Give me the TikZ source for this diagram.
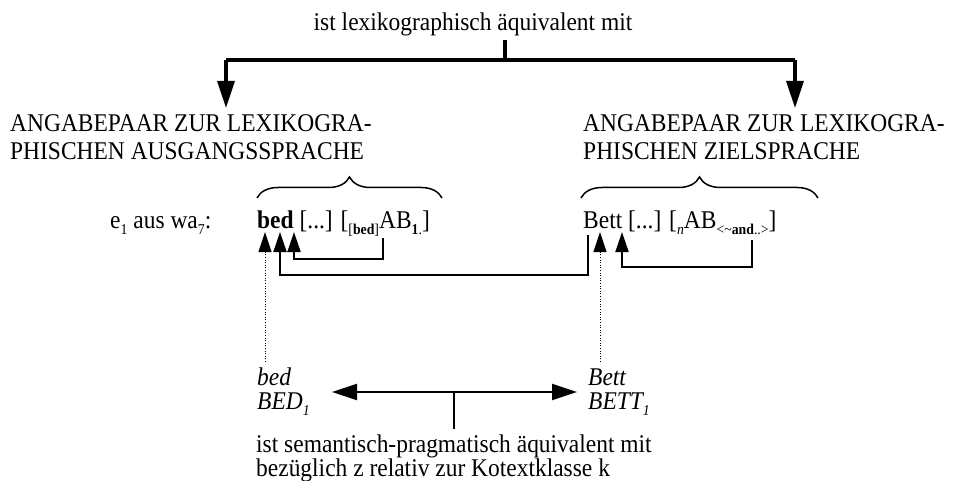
\documentclass[tikz,border=0pt]{standalone}
\usepackage{fontspec}
\setmainfont{Liberation Serif}[FakeStretch=0.92]
\usetikzlibrary{arrows.meta,decorations.pathreplacing}
\newcommand\mysb[1]{\raisebox{-0.25em}{\fontsize{15}{15}\selectfont #1}}
\tikzset{
  txt/.style={inner sep=0pt, anchor=base west, font=\fontsize{25.5}{28}\selectfont},
  bigarrow/.style={line width=3.2pt, -{Triangle[length=27pt,width=17pt]}},
  bigline/.style={line width=3.2pt},
  smallarrow/.style={line width=2pt, -{Triangle[length=20pt,width=13pt]}},
  smallline/.style={line width=2pt},
  dotline/.style={line width=1pt, dash pattern=on 1pt off 1.6pt, -{Triangle[length=20pt,width=13pt]}},
  dblarrow/.style={line width=2pt, {Triangle[length=25pt,width=16pt]}-{Triangle[length=25pt,width=16pt]}},
  bracestyle/.style={line width=1.5pt, decorate, decoration={brace, amplitude=21pt}},
}
\begin{document}
\begin{tikzpicture}[x=1pt,y=-1pt]
\fill[white] (0,0) rectangle (955,481);
\useasboundingbox (0,0) rectangle (955,481);

% top relation
\node[txt, anchor=base] (lex) at (473,31) {ist lexikographisch äquivalent mit};
\coordinate (lexstub) at (505,40);
\coordinate (lexbar) at (505,60);
\coordinate (barL) at (226,60);
\coordinate (barR) at (795,60);
\coordinate (tipL) at (226,108);
\coordinate (tipR) at (795,108);
\draw[bigline] (lexstub) -- (lexbar);
\draw[bigline] (barL) -- (barR);
\draw[bigarrow] (barL) -- (tipL);
\draw[bigarrow] (barR) -- (tipR);

% headings
\node[txt] (srcA) at (10,132) {ANGABEPAAR ZUR LEXIKOGRA-};
\node[txt] (srcB) at (10,160) {PHISCHEN AUSGANGSSPRACHE};
\node[txt] (tgtA) at (583,132) {ANGABEPAAR ZUR LEXIKOGRA-};
\node[txt] (tgtB) at (583,160) {PHISCHEN ZIELSPRACHE};

% braces
\coordinate (brLa) at (257,198);
\coordinate (brLb) at (442,198);
\coordinate (brRa) at (581,198);
\coordinate (brRb) at (818,198);
\draw[bracestyle] (brLa) -- (brLb);
\draw[bracestyle] (brRa) -- (brRb);

% entry row
\node[txt] (ex) at (110,228) {e\mysb{1} aus wa\mysb{7}:};
\node[txt] (bed) at (257,228) {\textbf{bed} [...] [\mysb{[\textbf{bed}]}AB\mysb{\textbf{1}.}]};
\node[txt] (bett) at (583,228) {Bett [...] [\mysb{\textit{n}}AB\mysb{<\textasciitilde\textbf{and}..>}]};

% bottom items
\node[txt] (bedI) at (257,385) {\textit{bed}};
\node[txt] (bedC) at (257,409) {\textit{BED\mysb{1}}};
\node[txt] (bettI) at (588,385) {\textit{Bett}};
\node[txt] (bettC) at (588,409) {\textit{BETT\mysb{1}}};
\node[txt] (sem1) at (256,452) {ist semantisch-pragmatisch äquivalent mit};
\node[txt] (sem2) at (256,476) {bezüglich z relativ zur Kotextklasse k};

% connectors under "bed"
\coordinate (t1) at (265,232);
\coordinate (d1) at (265,362);
\draw[dotline] (d1) -- (t1);
\coordinate (t2) at (280,232);
\coordinate (s2) at (588,235);
\draw[smallarrow] (s2) -- (588,275) -- (280,275) -- (t2);
\coordinate (t3) at (294,232);
\coordinate (s3) at (383,238);
\draw[smallarrow] (s3) -- (383,259) -- (294,259) -- (t3);

% connectors under "Bett"
\coordinate (u1) at (600,232);
\coordinate (e1) at (600,362);
\draw[dotline] (e1) -- (u1);
\coordinate (u2) at (622,232);
\coordinate (s4) at (752,240);
\draw[smallarrow] (s4) -- (752,267) -- (622,267) -- (u2);

% semantic equivalence
\coordinate (dL) at (332,392);
\coordinate (dR) at (577,392);
\coordinate (dM) at (454,392);
\coordinate (dS) at (454,429);
\draw[dblarrow] (dL) -- (dR);
\draw[smallline] (dM) -- (dS);
\end{tikzpicture}
\end{document}
